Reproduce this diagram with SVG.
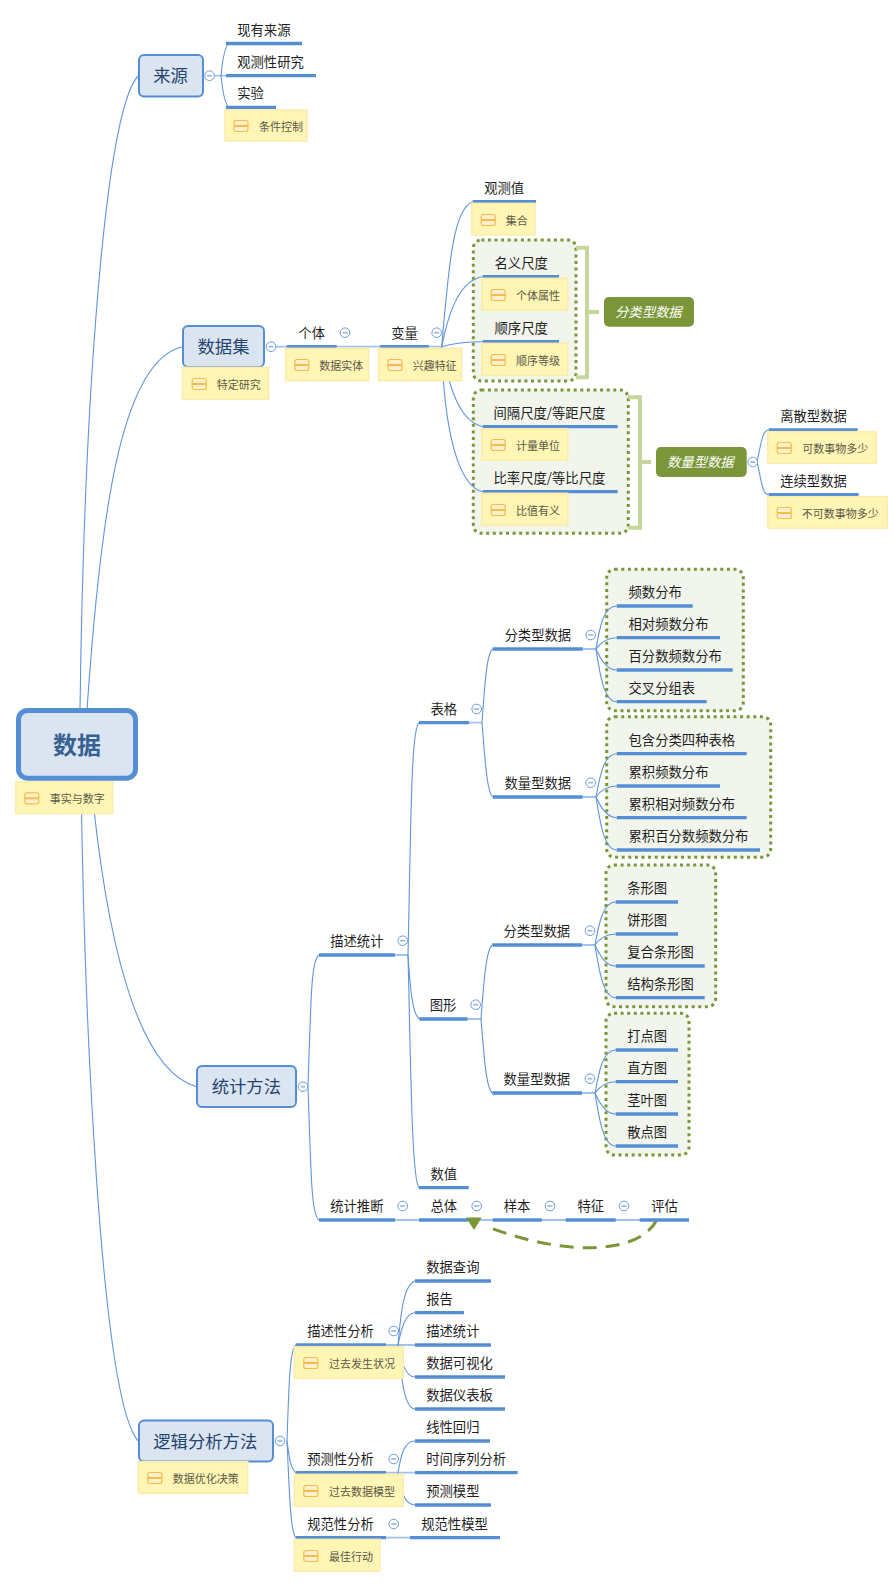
<svg xmlns="http://www.w3.org/2000/svg" width="894" height="1588" viewBox="0 0 894 1588">
<style>
text{font-family:"Noto Sans CJK SC","Liberation Sans",sans-serif}
.t{font-size:13.33px;fill:#1f1f1f;transform:translate(-0.5px,-0.8px)}
.nt{font-size:11px;fill:#5a5a48}
.mt{font-size:17.33px;fill:#25446e}
.rt{font-size:24px;font-weight:700;fill:#376092}
.wt{font-size:13.33px;fill:#fff;font-style:italic}
.u{stroke:#558ed5;stroke-width:3.3;fill:none}
.c{stroke:#5f95dc;stroke-width:1.1;fill:none}
.s{stroke:#9fc3ea;stroke-width:1.8;fill:none}
.m{fill:#dbe5f2;stroke:#558ed5;stroke-width:2}
.n{fill:#fff5b5;stroke:#fcecab;stroke-width:1.5}
.g{fill:#f2f5ec;stroke:#7a9638;stroke-width:3;stroke-dasharray:3 3.6}
.b{fill:none;stroke:#c5d69b;stroke-width:4}
.lb{fill:#7a9638}
</style>
<defs>
<g id="ic"><rect x="0.5" y="0.5" width="14" height="11" rx="2" fill="#feefcf" stroke="#f6bd4a" stroke-width="1.2"/><line x1="0.5" y1="6" x2="14.5" y2="6" stroke="#f6bd4a" stroke-width="2"/></g>
<g id="cl"><circle r="4.8" fill="#fff" stroke="#6a9be0" stroke-width="1"/><line x1="-2.5" x2="2.5" stroke="#98b4d8" stroke-width="1.6"/></g>
</defs>
<g id="boundaries">
<rect class="g" x="473.3" y="240" width="102.7" height="141" rx="8"/>
<path class="b" d="M576,247.7H587V377.3H576M587,312H599"/>
<rect class="g" x="473.3" y="390" width="155" height="143.3" rx="8"/>
<path class="b" d="M628,397.3H640V527.7H628M640,462H651"/>
<rect class="g" x="606.7" y="569.3" width="136.6" height="141.4" rx="8"/>
<rect class="g" x="606.7" y="716.7" width="164" height="140.6" rx="8"/>
<rect class="g" x="606" y="865" width="109.7" height="141.7" rx="8"/>
<rect class="g" x="606" y="1013.3" width="83" height="141.7" rx="8"/>
</g>
<g id="connectors">
<path class="c" d="M80,710C84,400 105,110 138.5,75.5"/>
<path class="c" d="M87,710C100,520 120,360 182.7,346.7"/>
<path class="c" d="M91,780C105,930 135,1070 196.7,1086.7"/>
<path class="c" d="M81,780C84,1000 100,1400 138.3,1441"/>
<path class="s" d="M214,75.7H226M276,346.7H442"/>
<path class="c" d="M221,75.7C223,55 226,43.5 230,43.5M221,75.7C223,95 226,107.3 230,107.3"/>
<path class="c" d="M441.7,346.7C449,260 454,208 472.7,201.7"/>
<path class="c" d="M441.7,346.7C450,305 462,280 482.7,276.7"/>
<path class="c" d="M441.7,346.7C454,343 468,341.7 482.7,341.7"/>
<path class="c" d="M441.7,346.7C450,395 462,422 482.7,426.7"/>
<path class="c" d="M441.7,346.7C444,430 458,486 482.7,491.7"/>
<path class="c" d="M757,462C761,445 762,430 768.7,430M757,462C761,478 762,494.7 768.7,494.7"/>
<path class="s" d="M395,955H408M469,722.7H482M467.7,1019H481M582.7,649H596M582.7,797H596M582,945H595M582,1093H595"/>
<path class="s" d="M395,1220H687"/>
<path class="c" d="M308,1086.7C311,1000 311,960 319,955"/>
<path class="c" d="M308,1086.7C311,1170 311,1215 319,1220"/>
<path class="c" d="M408,955C411,820 411,730 419,722.7"/>
<path class="c" d="M408,955C410,985 412,1014 419.3,1019"/>
<path class="c" d="M408,955C411,1080 412,1180 419,1187.7"/>
<path class="c" d="M482,722.7C485,680 487,653 492.7,649"/>
<path class="c" d="M482,722.7C485,760 487,792 492.7,797"/>
<path class="c" d="M481,1019C484,980 486,950 492.3,945"/>
<path class="c" d="M481,1019C484,1055 486,1088 492.3,1093"/>
<path class="c" d="M596,649C600,625 604,606 616.7,606"/>
<path class="c" d="M596,649C601,642 607,637.7 616.7,637.7"/>
<path class="c" d="M596,649C601,660 607,670 616.7,670"/>
<path class="c" d="M596,649C600,675 604,701.7 616.7,701.7"/>
<path class="c" d="M596,797C600,775 604,753.7 616.7,753.7"/>
<path class="c" d="M596,797C601,790 607,786 616.7,786"/>
<path class="c" d="M596,797C601,808 607,817.7 616.7,817.7"/>
<path class="c" d="M596,797C600,822 604,850 616.7,850"/>
<path class="c" d="M595,945C599,923 603,902 615.7,902"/>
<path class="c" d="M595,945C600,938 606,934 615.7,934"/>
<path class="c" d="M595,945C600,956 606,966 615.7,966"/>
<path class="c" d="M595,945C599,970 603,997.7 615.7,997.7"/>
<path class="c" d="M595,1093C599,1071 603,1050 615.7,1050"/>
<path class="c" d="M595,1093C600,1086 606,1081.7 615.7,1081.7"/>
<path class="c" d="M595,1093C600,1104 606,1114 615.7,1114"/>
<path class="c" d="M595,1093C599,1118 603,1146 615.7,1146"/>
<path class="c" d="M287,1441C289,1380 290,1350 295.7,1345"/>
<path class="c" d="M287,1441C289,1455 290,1468 295.7,1472.7"/>
<path class="c" d="M287,1441C289,1480 290,1532 295.7,1537.7"/>
<path class="s" d="M386,1345H415M386,1472.7H415M386,1537.7H410"/>
<path class="c" d="M398,1345C401,1310 404,1285 415,1281"/>
<path class="c" d="M398,1345C401,1330 405,1312.7 415,1312.7"/>
<path class="c" d="M398,1345C401,1360 405,1377 415,1377"/>
<path class="c" d="M398,1345C401,1375 404,1409 415,1409"/>
<path class="c" d="M398,1472.7C401,1455 404,1441 415,1441"/>
<path class="c" d="M398,1472.7C401,1490 404,1505 415,1505"/>
<path d="M656.7,1220C640,1253 570,1258 488,1227" fill="none" stroke="#7a9638" stroke-width="3" stroke-dasharray="14 9"/>
</g>
<g id="root"><rect x="18.5" y="710.5" width="117" height="67.7" rx="9" fill="#dbe5f2" stroke="#558ed5" stroke-width="5"/><text class="rt" x="77" y="754" text-anchor="middle">数据</text></g>
<g id="root-note"><rect class="n" x="15.7" y="781.7" width="97" height="32"/><use href="#ic" x="24.3" y="792.3"/><text class="nt" x="49.7" y="802.5">事实与数字</text></g>

<g id="laiyuan"><rect class="m" x="139" y="55" width="64" height="41.5" rx="5"/><text class="mt" x="153.3" y="82">来源</text><use href="#cl" x="209.5" y="75.7"/></g>
<g id="ly1"><line class="u" x1="226" x2="302" y1="43.5" y2="43.5"/><text class="t" x="237.7" y="35.5">现有来源</text></g>
<g id="ly2"><line class="u" x1="226" x2="316" y1="75.7" y2="75.7"/><text class="t" x="237.7" y="67.5">观测性研究</text></g>
<g id="ly3"><line class="u" x1="226" x2="276" y1="107.3" y2="107.3"/><text class="t" x="237.7" y="99">实验</text></g>
<g id="ly3n"><rect class="n" x="225" y="110" width="82" height="31"/><use href="#ic" x="233.5" y="120"/><text class="nt" x="259" y="130.5">条件控制</text></g>

<g id="shujuji"><rect class="m" x="183" y="326" width="81" height="41" rx="5"/><text class="mt" x="197.5" y="353">数据集</text><use href="#cl" x="271" y="346.7"/></g>
<g id="sjjn"><rect class="n" x="182.3" y="367.3" width="86.4" height="32"/><use href="#ic" x="191.7" y="378"/><text class="nt" x="216.7" y="388.5">特定研究</text></g>
<g id="geti"><line class="u" x1="286.7" x2="336.7" y1="346.7" y2="346.7"/><text class="t" x="299" y="338.5">个体</text><use href="#cl" x="345" y="332.7"/></g>
<g id="getin"><rect class="n" x="285.7" y="348.3" width="83" height="32.4"/><use href="#ic" x="294.3" y="359"/><text class="nt" x="319.3" y="369.5">数据实体</text></g>
<g id="bianliang"><line class="u" x1="380" x2="428.7" y1="346.7" y2="346.7"/><text class="t" x="391.7" y="338.5">变量</text><use href="#cl" x="436.7" y="332.7"/></g>
<g id="bln"><rect class="n" x="378.7" y="348.3" width="83" height="32.4"/><use href="#ic" x="387.5" y="359"/><text class="nt" x="412.7" y="369.5">兴趣特征</text></g>
<g id="gcz"><line class="u" x1="472.7" x2="536" y1="201.7" y2="201.7"/><text class="t" x="484.7" y="193.5">观测值</text></g>
<g id="gczn"><rect class="n" x="471.7" y="203.3" width="63.3" height="31.7"/><use href="#ic" x="480.7" y="214"/><text class="nt" x="505.7" y="224.5">集合</text></g>
<g id="mycd"><line class="u" x1="482.7" x2="559" y1="276.7" y2="276.7"/><text class="t" x="495" y="268.5">名义尺度</text></g>
<g id="mycdn"><rect class="n" x="481.7" y="278.3" width="86" height="32"/><use href="#ic" x="490.7" y="289"/><text class="nt" x="516" y="299.5">个体属性</text></g>
<g id="sxcd"><line class="u" x1="482.7" x2="559" y1="341.7" y2="341.7"/><text class="t" x="495" y="333.5">顺序尺度</text></g>
<g id="sxcdn"><rect class="n" x="481.7" y="343.3" width="86" height="32"/><use href="#ic" x="490.7" y="354"/><text class="nt" x="516" y="364.5">顺序等级</text></g>
<g id="fenlei"><rect class="lb" x="604" y="297" width="90" height="29.7" rx="5"/><text class="wt" x="615" y="317">分类型数据</text></g>
<g id="jgcd"><line class="u" x1="482.7" x2="617.7" y1="426.7" y2="426.7"/><text class="t" x="494" y="418.5">间隔尺度/等距尺度</text></g>
<g id="jgcdn"><rect class="n" x="481.7" y="428.7" width="86" height="31.6"/><use href="#ic" x="490.7" y="439"/><text class="nt" x="516" y="449.5">计量单位</text></g>
<g id="blcd"><line class="u" x1="482.7" x2="617.7" y1="491.7" y2="491.7"/><text class="t" x="494" y="483.5">比率尺度/等比尺度</text></g>
<g id="blcdn"><rect class="n" x="481.7" y="493.3" width="86" height="32"/><use href="#ic" x="490.7" y="504"/><text class="nt" x="516" y="514.5">比值有义</text></g>
<g id="shuliang"><rect class="lb" x="656" y="447" width="90.7" height="30" rx="5"/><text class="wt" x="667" y="467">数量型数据</text><use href="#cl" x="752.7" y="462"/></g>
<g id="lsx"><line class="u" x1="768.7" x2="857.7" y1="430" y2="430"/><text class="t" x="780.7" y="421.5">离散型数据</text></g>
<g id="lsxn"><rect class="n" x="767.7" y="431.7" width="108.6" height="31.6"/><use href="#ic" x="776.7" y="442"/><text class="nt" x="802.3" y="452.5">可数事物多少</text></g>
<g id="lxx"><line class="u" x1="768.7" x2="858.7" y1="494.7" y2="494.7"/><text class="t" x="780.7" y="486.5">连续型数据</text></g>
<g id="lxxn"><rect class="n" x="767.7" y="496.7" width="119.6" height="31.6"/><use href="#ic" x="776.7" y="507"/><text class="nt" x="801.7" y="517.5">不可数事物多少</text></g>

<g id="tongji"><rect class="m" x="197" y="1066" width="99" height="41" rx="5"/><text class="mt" x="211.7" y="1093">统计方法</text><use href="#cl" x="303" y="1086.7"/></g>
<g id="mstj"><line class="u" x1="319" x2="395" y1="955" y2="955"/><text class="t" x="330.7" y="946.5">描述统计</text><use href="#cl" x="402.7" y="940.7"/></g>
<g id="tjtd"><line class="u" x1="319" x2="395" y1="1220" y2="1220"/><text class="t" x="330.7" y="1211.5">统计推断</text><use href="#cl" x="402.7" y="1206"/></g>
<g id="zt"><line class="u" x1="419" x2="468.3" y1="1220" y2="1220"/><text class="t" x="431" y="1211.5">总体</text><use href="#cl" x="476.7" y="1206"/></g>
<g id="yb"><line class="u" x1="492.7" x2="541.7" y1="1220" y2="1220"/><text class="t" x="504.3" y="1211.5">样本</text><use href="#cl" x="550" y="1206"/></g>
<g id="tz"><line class="u" x1="565.7" x2="615.7" y1="1220" y2="1220"/><text class="t" x="578" y="1211.5">特征</text><use href="#cl" x="624" y="1206"/></g>
<g id="pg"><line class="u" x1="639.7" x2="689" y1="1220" y2="1220"/><text class="t" x="651.7" y="1211.5">评估</text></g>
<polygon id="assoc-arrow" class="lb" points="466,1217.5 481.7,1217.5 474,1230"/>
<g id="sz"><line class="u" x1="419" x2="468.7" y1="1187.7" y2="1187.7"/><text class="t" x="431" y="1179.5">数值</text></g>
<g id="bg"><line class="u" x1="419" x2="469" y1="722.7" y2="722.7"/><text class="t" x="431" y="714.5">表格</text><use href="#cl" x="476.7" y="709"/></g>
<g id="tx"><line class="u" x1="419.3" x2="467.7" y1="1019" y2="1019"/><text class="t" x="430.3" y="1010.5">图形</text><use href="#cl" x="475.7" y="1004.7"/></g>
<g id="bgfl"><line class="u" x1="492.7" x2="582.7" y1="649" y2="649"/><text class="t" x="505" y="640.5">分类型数据</text><use href="#cl" x="590.7" y="635"/></g>
<g id="bgsl"><line class="u" x1="492.7" x2="582.7" y1="797" y2="797"/><text class="t" x="505" y="788.5">数量型数据</text><use href="#cl" x="590.7" y="782.7"/></g>
<g id="txfl"><line class="u" x1="492.3" x2="582" y1="945" y2="945"/><text class="t" x="504" y="936.5">分类型数据</text><use href="#cl" x="590" y="930.7"/></g>
<g id="txsl"><line class="u" x1="492.3" x2="582" y1="1093" y2="1093"/><text class="t" x="504" y="1084.5">数量型数据</text><use href="#cl" x="590" y="1078.7"/></g>
<g id="a1"><line class="u" x1="616.7" x2="692.7" y1="606" y2="606"/><text class="t" x="629" y="597.5">频数分布</text></g>
<g id="a2"><line class="u" x1="616.7" x2="720" y1="637.7" y2="637.7"/><text class="t" x="629" y="629.5">相对频数分布</text></g>
<g id="a3"><line class="u" x1="616.7" x2="732.7" y1="670" y2="670"/><text class="t" x="629" y="661.5">百分数频数分布</text></g>
<g id="a4"><line class="u" x1="616.7" x2="706.7" y1="701.7" y2="701.7"/><text class="t" x="629" y="693.5">交叉分组表</text></g>
<g id="b1"><line class="u" x1="616.7" x2="746.7" y1="753.7" y2="753.7"/><text class="t" x="629" y="745.5">包含分类四种表格</text></g>
<g id="b2"><line class="u" x1="616.7" x2="720" y1="786" y2="786"/><text class="t" x="629" y="777.5">累积频数分布</text></g>
<g id="b3"><line class="u" x1="616.7" x2="746.7" y1="817.7" y2="817.7"/><text class="t" x="629" y="809.5">累积相对频数分布</text></g>
<g id="b4"><line class="u" x1="616.7" x2="760" y1="850" y2="850"/><text class="t" x="629" y="841.5">累积百分数频数分布</text></g>
<g id="c1"><line class="u" x1="615.7" x2="678" y1="902" y2="902"/><text class="t" x="627.7" y="893.5">条形图</text></g>
<g id="c2"><line class="u" x1="615.7" x2="678" y1="934" y2="934"/><text class="t" x="627.7" y="925.5">饼形图</text></g>
<g id="c3"><line class="u" x1="615.7" x2="704.7" y1="966" y2="966"/><text class="t" x="627.7" y="957.5">复合条形图</text></g>
<g id="c4"><line class="u" x1="615.7" x2="704.7" y1="997.7" y2="997.7"/><text class="t" x="627.7" y="989.5">结构条形图</text></g>
<g id="d1"><line class="u" x1="615.7" x2="678" y1="1050" y2="1050"/><text class="t" x="627.7" y="1041.5">打点图</text></g>
<g id="d2"><line class="u" x1="615.7" x2="678" y1="1081.7" y2="1081.7"/><text class="t" x="627.7" y="1073.5">直方图</text></g>
<g id="d3"><line class="u" x1="615.7" x2="678" y1="1114" y2="1114"/><text class="t" x="627.7" y="1105.5">茎叶图</text></g>
<g id="d4"><line class="u" x1="615.7" x2="678" y1="1146" y2="1146"/><text class="t" x="627.7" y="1137.5">散点图</text></g>

<g id="luoji"><rect class="m" x="139" y="1420.5" width="134" height="41" rx="5"/><text class="mt" x="153.3" y="1447.5">逻辑分析方法</text><use href="#cl" x="280" y="1441"/></g>
<g id="ljn"><rect class="n" x="138.3" y="1461.7" width="109.4" height="31.6"/><use href="#ic" x="147.3" y="1472"/><text class="nt" x="172.7" y="1482.5">数据优化决策</text></g>
<g id="msx"><line class="u" x1="295.7" x2="386" y1="1345" y2="1345"/><text class="t" x="307.7" y="1336.5">描述性分析</text><use href="#cl" x="393.7" y="1331"/></g>
<g id="msxn"><rect class="n" x="294.3" y="1346.7" width="109" height="31.6"/><use href="#ic" x="303.3" y="1357"/><text class="nt" x="329" y="1367.5">过去发生状况</text></g>
<g id="ycx"><line class="u" x1="295.7" x2="386" y1="1472.7" y2="1472.7"/><text class="t" x="307.7" y="1464.5">预测性分析</text><use href="#cl" x="393.7" y="1459"/></g>
<g id="ycxn"><rect class="n" x="294.3" y="1474.3" width="109" height="32"/><use href="#ic" x="303.3" y="1485"/><text class="nt" x="329" y="1495.5">过去数据模型</text></g>
<g id="gfx"><line class="u" x1="295.7" x2="386" y1="1537.7" y2="1537.7"/><text class="t" x="307.7" y="1529.5">规范性分析</text><use href="#cl" x="393.7" y="1524"/></g>
<g id="gfxn"><rect class="n" x="294.3" y="1539.3" width="85.7" height="32"/><use href="#ic" x="303.3" y="1550"/><text class="nt" x="329" y="1560.5">最佳行动</text></g>
<g id="gfmx"><line class="u" x1="410" x2="500" y1="1537.7" y2="1537.7"/><text class="t" x="421.7" y="1529.5">规范性模型</text></g>
<g id="e1"><line class="u" x1="415" x2="491" y1="1281" y2="1281"/><text class="t" x="426.7" y="1272.5">数据查询</text></g>
<g id="e2"><line class="u" x1="415" x2="464" y1="1312.7" y2="1312.7"/><text class="t" x="426.7" y="1304.5">报告</text></g>
<g id="e3"><line class="u" x1="415" x2="491" y1="1345" y2="1345"/><text class="t" x="426.7" y="1336.5">描述统计</text></g>
<g id="e4"><line class="u" x1="415" x2="505" y1="1377" y2="1377"/><text class="t" x="426.7" y="1368.5">数据可视化</text></g>
<g id="e5"><line class="u" x1="415" x2="505" y1="1409" y2="1409"/><text class="t" x="426.7" y="1400.5">数据仪表板</text></g>
<g id="f1"><line class="u" x1="415" x2="490" y1="1441" y2="1441"/><text class="t" x="426.7" y="1432.5">线性回归</text></g>
<g id="f2"><line class="u" x1="415" x2="517.7" y1="1472.7" y2="1472.7"/><text class="t" x="426.7" y="1464.5">时间序列分析</text></g>
<g id="f3"><line class="u" x1="415" x2="491" y1="1505" y2="1505"/><text class="t" x="426.7" y="1496.5">预测模型</text></g>
</svg>
